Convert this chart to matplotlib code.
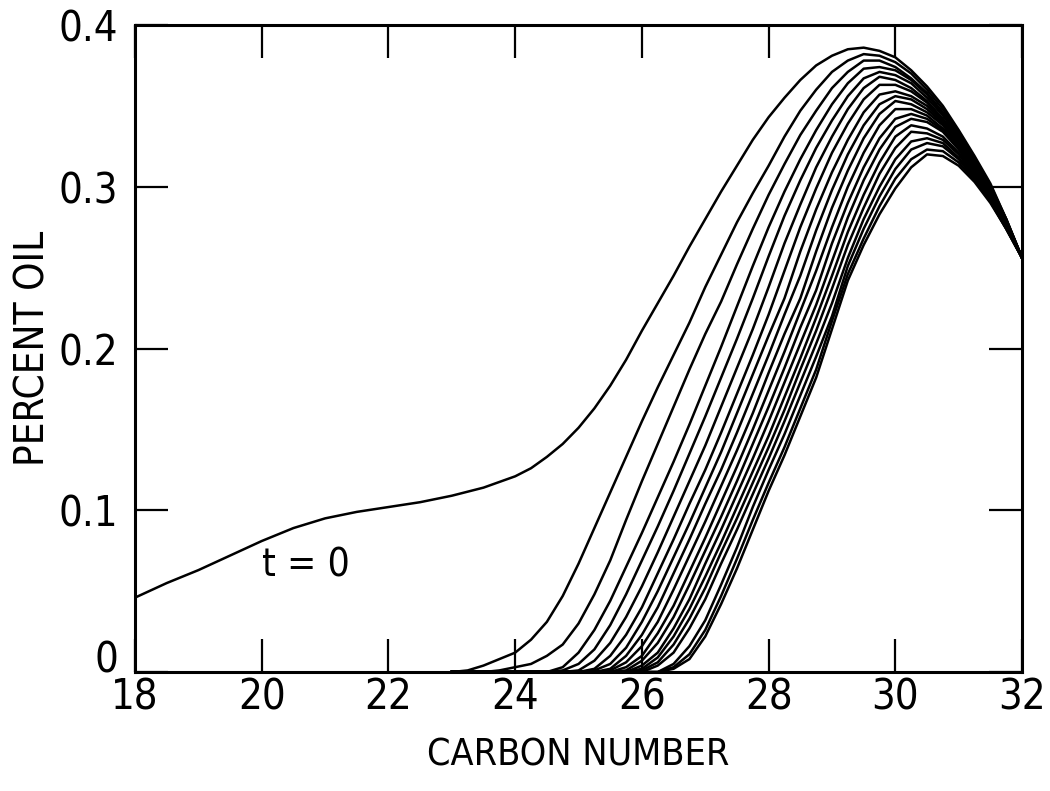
#!/usr/bin/env python3
"""Percent oil vs carbon number: t = 0 profile and the family of later profiles."""

import matplotlib
matplotlib.use("Agg")
import matplotlib.pyplot as plt

plt.rcParams["font.family"] = ["Liberation Sans Narrow", "DejaVu Sans"]
plt.rcParams["font.stretch"] = "condensed"

# t = 0 profile
T0_X = [18.0, 18.5, 19.0, 19.5, 20.0, 20.5, 21.0, 21.5, 22.0, 22.5, 23.0, 23.5,
        24.0, 24.25, 24.5, 24.75, 25.0, 25.25, 25.5, 25.75, 26.0, 26.25, 26.5,
        26.75, 27.0, 27.25, 27.5, 27.75, 28.0, 28.25, 28.5, 28.75, 29.0, 29.25,
        29.5, 29.75, 30.0, 30.25, 30.5, 30.75, 31.0, 31.25, 31.5, 31.75, 32.0]
T0_Y = [0.046, 0.055, 0.063, 0.072, 0.081, 0.089, 0.095, 0.099, 0.102, 0.105,
        0.109, 0.114, 0.121, 0.126, 0.133, 0.141, 0.151, 0.163, 0.177, 0.193,
        0.211, 0.228, 0.245, 0.263, 0.280, 0.297, 0.313, 0.329, 0.343, 0.355,
        0.366, 0.375, 0.381, 0.385, 0.386, 0.384, 0.380, 0.372, 0.362, 0.350,
        0.335, 0.319, 0.302, 0.280, 0.256]

# later profiles, sampled on a common carbon-number grid
SHIFT_X = [23.0, 23.25, 23.5, 23.75, 24.0, 24.25, 24.5, 24.75, 25.0, 25.25,
           25.5, 25.75, 26.0, 26.25, 26.5, 26.75, 27.0, 27.25, 27.5, 27.75,
           28.0, 28.25, 28.5, 28.75, 29.0, 29.25, 29.5, 29.75, 30.0, 30.25,
           30.5, 30.75, 31.0, 31.25, 31.5, 31.75, 32.0]

CURVE_1 = [0.000, 0.001, 0.004, 0.008, 0.012, 0.020, 0.031, 0.047, 0.067, 0.089,
           0.111, 0.133, 0.155, 0.176, 0.196, 0.216, 0.238, 0.258, 0.278, 0.296,
           0.313, 0.331, 0.347, 0.360, 0.371, 0.378, 0.382, 0.381, 0.377, 0.370,
           0.360, 0.348, 0.334, 0.318, 0.301, 0.280, 0.256]
CURVE_2 = [0.000, 0.000, 0.000, 0.001, 0.003, 0.005, 0.010, 0.017, 0.030, 0.048,
           0.069, 0.094, 0.118, 0.141, 0.164, 0.187, 0.209, 0.229, 0.252, 0.274,
           0.295, 0.314, 0.332, 0.347, 0.361, 0.371, 0.378, 0.378, 0.374, 0.367,
           0.358, 0.346, 0.333, 0.317, 0.300, 0.280, 0.256]
CURVE_3 = [0.000, 0.000, 0.000, 0.000, 0.000, 0.000, 0.000, 0.003, 0.012, 0.026,
           0.044, 0.065, 0.086, 0.108, 0.130, 0.153, 0.177, 0.201, 0.226, 0.251,
           0.275, 0.297, 0.317, 0.335, 0.351, 0.364, 0.373, 0.374, 0.372, 0.366,
           0.357, 0.345, 0.332, 0.317, 0.300, 0.279, 0.256]
CURVE_4 = [0.000, 0.000, 0.000, 0.000, 0.000, 0.000, 0.000, 0.001, 0.005, 0.014,
           0.029, 0.048, 0.069, 0.090, 0.112, 0.135, 0.158, 0.182, 0.206, 0.231,
           0.257, 0.282, 0.304, 0.324, 0.341, 0.356, 0.367, 0.371, 0.369, 0.364,
           0.355, 0.344, 0.331, 0.316, 0.299, 0.279, 0.256]
CURVE_5 = [0.000, 0.000, 0.000, 0.000, 0.000, 0.000, 0.000, 0.000, 0.001, 0.007,
           0.018, 0.034, 0.053, 0.074, 0.096, 0.118, 0.140, 0.164, 0.188, 0.212,
           0.238, 0.265, 0.289, 0.312, 0.331, 0.348, 0.361, 0.368, 0.366, 0.361,
           0.353, 0.342, 0.330, 0.315, 0.298, 0.279, 0.256]
CURVE_6 = [0.000, 0.000, 0.000, 0.000, 0.000, 0.000, 0.000, 0.000, 0.000, 0.002,
           0.010, 0.023, 0.040, 0.061, 0.082, 0.104, 0.125, 0.148, 0.172, 0.196,
           0.221, 0.248, 0.275, 0.299, 0.321, 0.339, 0.354, 0.363, 0.363, 0.359,
           0.352, 0.341, 0.329, 0.314, 0.298, 0.278, 0.256]
CURVE_7 = [0.000, 0.000, 0.000, 0.000, 0.000, 0.000, 0.000, 0.000, 0.000, 0.001,
           0.005, 0.015, 0.031, 0.050, 0.071, 0.092, 0.114, 0.136, 0.160, 0.184,
           0.208, 0.231, 0.260, 0.286, 0.309, 0.329, 0.346, 0.357, 0.359, 0.356,
           0.350, 0.340, 0.328, 0.314, 0.297, 0.278, 0.256]
CURVE_8 = [0.000, 0.000, 0.000, 0.000, 0.000, 0.000, 0.000, 0.000, 0.000, 0.000,
           0.002, 0.010, 0.023, 0.040, 0.061, 0.082, 0.104, 0.125, 0.148, 0.172,
           0.196, 0.221, 0.245, 0.273, 0.298, 0.320, 0.338, 0.351, 0.356, 0.354,
           0.348, 0.339, 0.327, 0.313, 0.297, 0.278, 0.256]
CURVE_9 = [0.000, 0.000, 0.000, 0.000, 0.000, 0.000, 0.000, 0.000, 0.000, 0.000,
           0.001, 0.006, 0.016, 0.031, 0.051, 0.072, 0.093, 0.115, 0.137, 0.160,
           0.185, 0.209, 0.231, 0.260, 0.287, 0.310, 0.330, 0.345, 0.353, 0.351,
           0.346, 0.338, 0.326, 0.312, 0.296, 0.277, 0.256]
CURVE_10 = [0.000, 0.000, 0.000, 0.000, 0.000, 0.000, 0.000, 0.000, 0.000, 0.000,
            0.000, 0.003, 0.010, 0.024, 0.041, 0.062, 0.083, 0.105, 0.127, 0.150,
            0.174, 0.198, 0.223, 0.248, 0.275, 0.300, 0.321, 0.338, 0.348, 0.348,
            0.344, 0.336, 0.325, 0.311, 0.295, 0.277, 0.256]
CURVE_11 = [0.000, 0.000, 0.000, 0.000, 0.000, 0.000, 0.000, 0.000, 0.000, 0.000,
            0.000, 0.001, 0.007, 0.018, 0.034, 0.054, 0.075, 0.096, 0.118, 0.141,
            0.164, 0.188, 0.213, 0.236, 0.265, 0.290, 0.312, 0.330, 0.342, 0.345,
            0.342, 0.335, 0.324, 0.310, 0.295, 0.276, 0.256]
CURVE_12 = [0.000, 0.000, 0.000, 0.000, 0.000, 0.000, 0.000, 0.000, 0.000, 0.000,
            0.000, 0.000, 0.004, 0.012, 0.027, 0.045, 0.067, 0.088, 0.110, 0.132,
            0.155, 0.179, 0.203, 0.227, 0.254, 0.281, 0.304, 0.323, 0.337, 0.342,
            0.340, 0.334, 0.323, 0.309, 0.294, 0.276, 0.256]
CURVE_13 = [0.000, 0.000, 0.000, 0.000, 0.000, 0.000, 0.000, 0.000, 0.000, 0.000,
            0.000, 0.000, 0.002, 0.009, 0.022, 0.039, 0.059, 0.080, 0.102, 0.124,
            0.146, 0.170, 0.194, 0.219, 0.245, 0.272, 0.295, 0.315, 0.331, 0.338,
            0.336, 0.331, 0.321, 0.308, 0.293, 0.276, 0.256]
CURVE_14 = [0.000, 0.000, 0.000, 0.000, 0.000, 0.000, 0.000, 0.000, 0.000, 0.000,
            0.000, 0.000, 0.001, 0.006, 0.017, 0.033, 0.052, 0.074, 0.095, 0.117,
            0.139, 0.162, 0.187, 0.211, 0.237, 0.264, 0.287, 0.308, 0.324, 0.334,
            0.333, 0.329, 0.320, 0.307, 0.293, 0.275, 0.256]
CURVE_15 = [0.000, 0.000, 0.000, 0.000, 0.000, 0.000, 0.000, 0.000, 0.000, 0.000,
            0.000, 0.000, 0.000, 0.004, 0.012, 0.027, 0.045, 0.067, 0.088, 0.110,
            0.132, 0.155, 0.179, 0.203, 0.228, 0.256, 0.280, 0.300, 0.317, 0.328,
            0.330, 0.327, 0.318, 0.306, 0.292, 0.275, 0.256]
CURVE_16 = [0.000, 0.000, 0.000, 0.000, 0.000, 0.000, 0.000, 0.000, 0.000, 0.000,
            0.000, 0.000, 0.000, 0.000, 0.005, 0.016, 0.032, 0.054, 0.077, 0.102,
            0.125, 0.147, 0.171, 0.195, 0.220, 0.251, 0.274, 0.294, 0.311, 0.323,
            0.327, 0.325, 0.317, 0.305, 0.291, 0.274, 0.256]
CURVE_17 = [0.000, 0.000, 0.000, 0.000, 0.000, 0.000, 0.000, 0.000, 0.000, 0.000,
            0.000, 0.000, 0.000, 0.000, 0.003, 0.011, 0.026, 0.047, 0.070, 0.094,
            0.117, 0.139, 0.163, 0.187, 0.217, 0.246, 0.268, 0.288, 0.305, 0.317,
            0.323, 0.322, 0.315, 0.304, 0.291, 0.274, 0.256]
CURVE_18 = [0.000, 0.000, 0.000, 0.000, 0.000, 0.000, 0.000, 0.000, 0.000, 0.000,
            0.000, 0.000, 0.000, 0.000, 0.002, 0.008, 0.022, 0.042, 0.064, 0.088,
            0.112, 0.134, 0.158, 0.182, 0.212, 0.242, 0.264, 0.283, 0.299, 0.312,
            0.320, 0.319, 0.313, 0.303, 0.290, 0.274, 0.256]

LATER_CURVES = [CURVE_1, CURVE_2, CURVE_3, CURVE_4, CURVE_5, CURVE_6,
                CURVE_7, CURVE_8, CURVE_9, CURVE_10, CURVE_11, CURVE_12,
                CURVE_13, CURVE_14, CURVE_15, CURVE_16, CURVE_17, CURVE_18]

X_TICKS = [18, 20, 22, 24, 26, 28, 30, 32]
Y_TICKS = [0, 0.1, 0.2, 0.3, 0.4]
Y_TICK_LABELS = ["0", "0.1", "0.2", "0.3", "0.4"]

fig = plt.figure(figsize=(10.5, 7.91), dpi=100)
ax = fig.add_axes([0.1286, 0.1504, 0.8448, 0.818])

ax.plot(T0_X, T0_Y, color="black", lw=1.8, solid_joinstyle="round")
for ys in LATER_CURVES:
    ax.plot(SHIFT_X, ys, color="black", lw=1.8, solid_joinstyle="round")

ax.text(20.0, 0.066, "t = 0", fontsize=28, ha="left", va="center")

ax.set_xlim(18, 32)
ax.set_ylim(0, 0.4)
ax.set_xticks(X_TICKS)
ax.set_yticks(Y_TICKS)
ax.set_yticklabels(Y_TICK_LABELS)
ax.tick_params(axis="both", direction="in", length=24, width=1.6,
               top=True, right=True, labelsize=30)
ax.tick_params(axis="x", pad=3)
ax.tick_params(axis="y", pad=12)
# the "0" label sits a little above the corner in the reference
ax.get_yticklabels()[0].set_verticalalignment("baseline")
for side in ax.spines.values():
    side.set_linewidth(2.2)

ax.set_xlabel("CARBON NUMBER", fontsize=27, labelpad=14)
ax.set_ylabel("PERCENT OIL", fontsize=29, labelpad=4)

fig.savefig("out.png", dpi=100)
